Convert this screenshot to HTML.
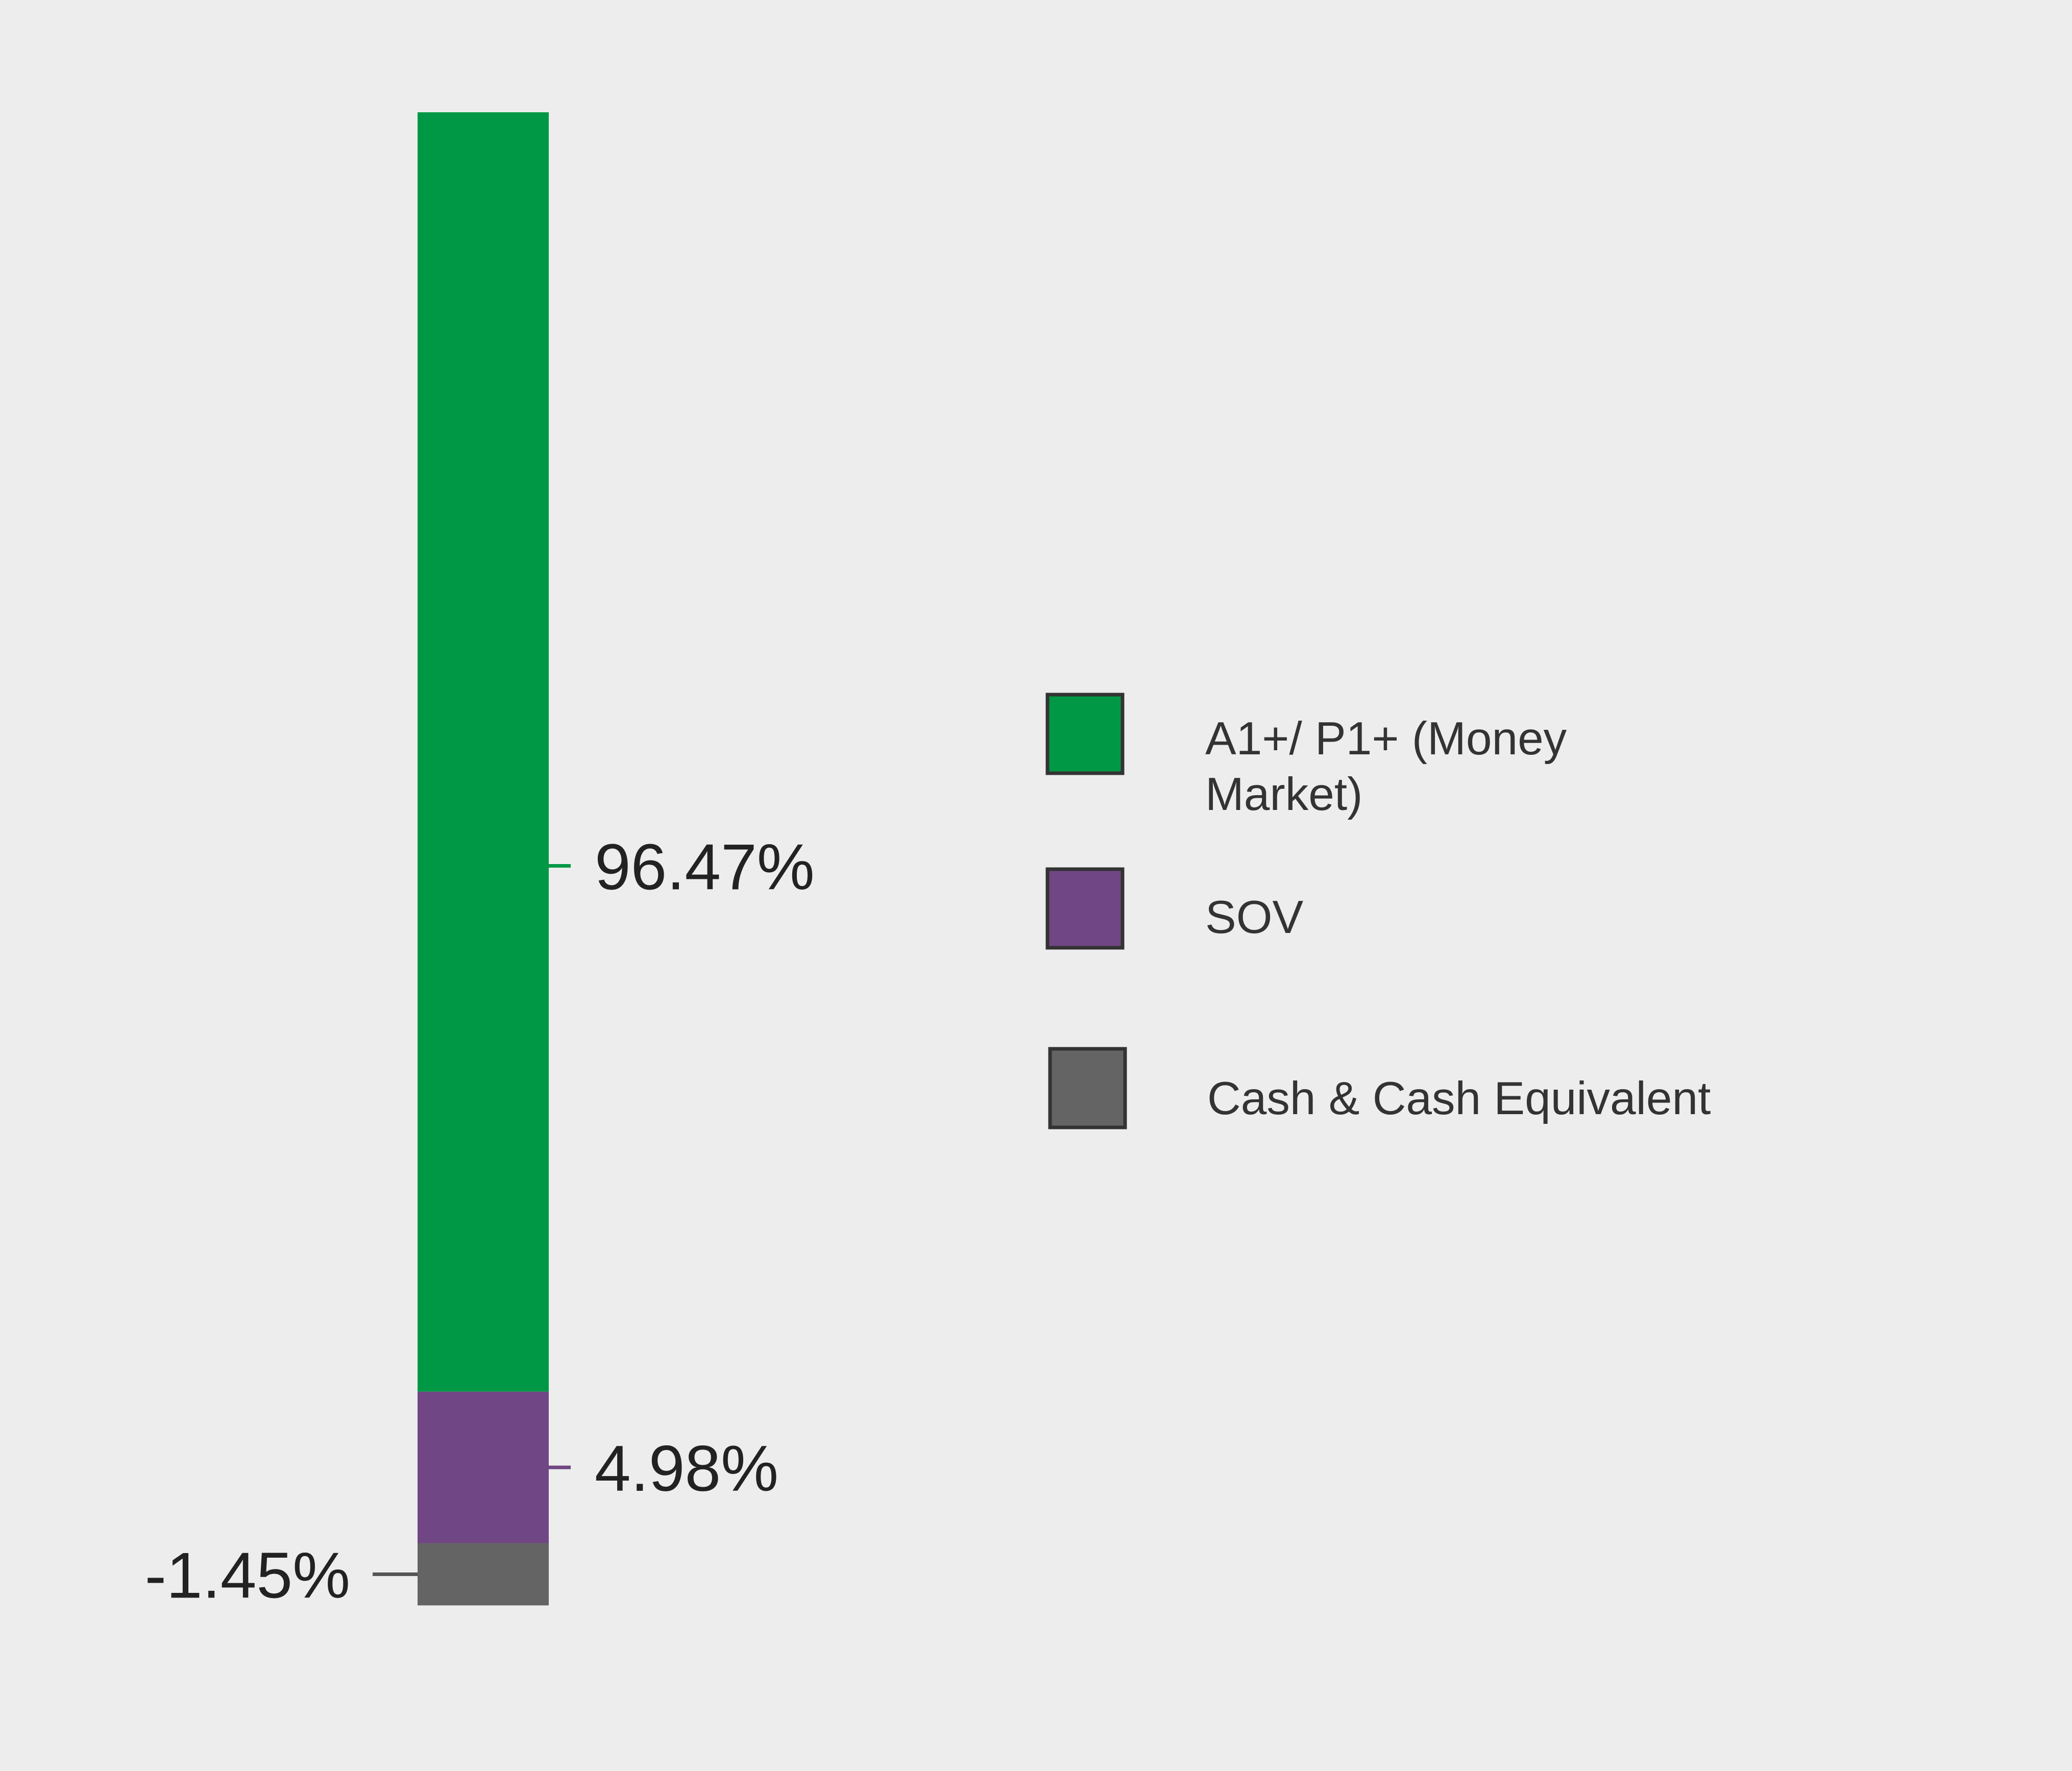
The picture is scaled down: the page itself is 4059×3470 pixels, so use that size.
<!DOCTYPE html>
<html><head><meta charset="utf-8"><style>
html,body{margin:0;padding:0;background:#ecedec;}
svg{display:block;}
</style></head><body>
<svg id="chart" width="4059" height="3470" viewBox="0 0 4059 3470" xmlns="http://www.w3.org/2000/svg" style="font-family:'Liberation Sans',sans-serif">
<rect x="0" y="0" width="4059" height="3470" fill="#ecedec"/>
<g id="bars"></g>
<g>
  <g>
    <rect x="2052" y="1361" width="147" height="154" fill="#009845" stroke="#333" stroke-width="7"/>
    <text x="2361" y="1478" font-size="91" fill="#333">A1+/ P1+ (Money</text>
    <text x="2361" y="1587" font-size="91" fill="#333">Market)</text>
  </g>
  <g>
    <rect x="2052" y="1703" width="147" height="154" fill="#704684" stroke="#333" stroke-width="7"/>
    <text x="2361" y="1828" font-size="91" fill="#333">SOV</text>
  </g>
  <g>
    <rect x="2057" y="2055" width="147" height="154" fill="#646464" stroke="#333" stroke-width="7"/>
    <text x="2365" y="2183" font-size="91" fill="#333">Cash &amp; Cash Equivalent</text>
  </g>
</g>
</svg>
<script>
const categories = ["A1+/ P1+ (Money Market)", "SOV", "Cash & Cash Equivalent"];
const values = [96.47, 4.98, -1.45];
const valueLabels = ["96.47%", "4.98%", "-1.45%"];
const colors = ["#009845", "#704684", "#646464"];

const NS = "http://www.w3.org/2000/svg";
const g = document.getElementById("bars");
const barX = 818, barW = 257, barTop = 220;
// segment height scale (chart uses compressed stacking)
function segH(v){ return 93.4 * Math.pow(Math.abs(v), 0.72); }
let y = barTop;
values.forEach((v, i) => {
  const h = segH(v);
  const r = document.createElementNS(NS, "rect");
  
  
  r.setAttribute("x", barX); r.setAttribute("y", y);
  r.setAttribute("width", barW); r.setAttribute("height", h);
  r.setAttribute("fill", colors[i]);
  g.appendChild(r);
  const ty = i === 0 ? y + h * 0.589 : y + h / 2;
  const left = v < 0;
  const line = document.createElementNS(NS, "line");
  
  
  if (left) { line.setAttribute("x1", barX - 88); line.setAttribute("x2", barX); }
  else { line.setAttribute("x1", barX + barW); line.setAttribute("x2", barX + barW + 43); }
  line.setAttribute("y1", ty); line.setAttribute("y2", ty);
  line.setAttribute("stroke", left ? "#555" : colors[i]);
  line.setAttribute("stroke-width", 7);
  g.appendChild(line);
  const t = document.createElementNS(NS, "text");
  
  
  t.setAttribute("x", left ? barX - 132 : barX + barW + 90);
  t.setAttribute("y", ty + 46);
  t.setAttribute("text-anchor", left ? "end" : "start");
  t.setAttribute("font-size", 127);
  t.setAttribute("fill", "#222");
  t.textContent = valueLabels[i];
  g.appendChild(t);
  y += h;
});
</script>
</body></html>
